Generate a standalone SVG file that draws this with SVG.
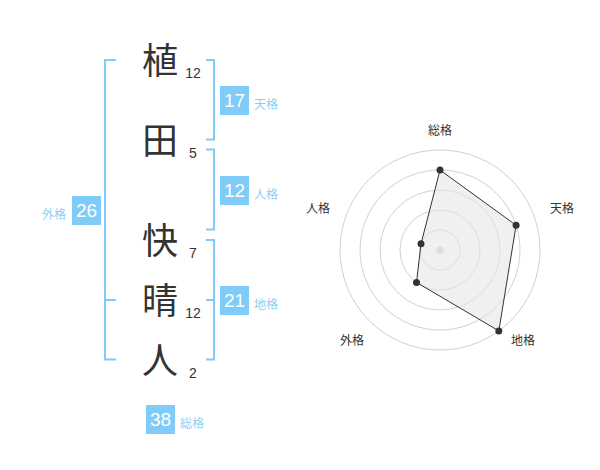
<svg xmlns="http://www.w3.org/2000/svg" width="600" height="470" viewBox="0 0 600 470">
<style>
.ch{font-family:"Noto Sans CJK JP","Noto Sans CJK SC",sans-serif;font-size:36px;fill:#333;text-anchor:middle}
.st{font-family:"Liberation Sans",Arial,sans-serif;font-size:14px;fill:#333;text-anchor:middle}
.box{fill:#80ccf8}
.bn{font-family:"Liberation Sans",Arial,sans-serif;font-size:19px;fill:#fff;text-anchor:middle}
.bl{font-family:"Noto Sans CJK JP","Noto Sans CJK SC",sans-serif;font-size:12px;fill:#8ccff6}
.br{fill:none;stroke:#80ccf8;stroke-width:2}
.ring{fill:none;stroke:#d0d0d0;stroke-width:1}
.rl{font-family:"Noto Sans CJK JP","Noto Sans CJK SC",sans-serif;font-size:12px;fill:#333;text-anchor:middle}
.dot{fill:#333}
</style>
<rect width="600" height="470" fill="#fff"/>
<g id="connectors">
<path class="br" d="M116,60H105V359.5H116M105,300H116"/>
<path class="br" d="M206,60H214V139.5H206"/>
<path class="br" d="M206,149.5H214V229.5H206"/>
<path class="br" d="M206,240H214V359.5H206M206,300H214"/>
</g>
<g id="char1"><text class="ch" x="160" y="73.5">植</text><text class="st" x="193" y="77.7">12</text></g>
<g id="char2"><text class="ch" x="160" y="153.5">田</text><text class="st" x="193" y="157.7">5</text></g>
<g id="char3"><text class="ch" x="160" y="253.5">快</text><text class="st" x="193" y="257.5">7</text></g>
<g id="char4"><text class="ch" x="160" y="313.5">晴</text><text class="st" x="193" y="317.7">12</text></g>
<g id="char5"><text class="ch" x="160" y="373.5">人</text><text class="st" x="193" y="377.7">2</text></g>
<g id="tenkaku"><rect class="box" x="220" y="86" width="29" height="29"/><text class="bn" x="234.5" y="107.3">17</text><text class="bl" x="254" y="109">天格</text></g>
<g id="jinkaku"><rect class="box" x="220" y="176" width="29" height="29"/><text class="bn" x="234.5" y="197.3">12</text><text class="bl" x="254" y="199">人格</text></g>
<g id="chikaku"><rect class="box" x="220" y="286" width="29" height="29"/><text class="bn" x="234.5" y="307.3">21</text><text class="bl" x="254" y="309">地格</text></g>
<g id="gaikaku"><rect class="box" x="72" y="196" width="29" height="29"/><text class="bn" x="86.5" y="217.3">26</text><text class="bl" x="66" y="219" text-anchor="end">外格</text></g>
<g id="soukaku"><rect class="box" x="146" y="405" width="29" height="29"/><text class="bn" x="160.5" y="426.3">38</text><text class="bl" x="180" y="428">総格</text></g>
<g id="radar">
<circle class="ring" cx="440" cy="250" r="20"/>
<circle class="ring" cx="440" cy="250" r="40"/>
<circle class="ring" cx="440" cy="250" r="60"/>
<circle class="ring" cx="440" cy="250" r="80"/>
<circle class="ring" cx="440" cy="250" r="100"/>
<circle cx="440" cy="250" r="3.5" fill="#ccc"/>
<polygon points="440,170 516.1,225.3 498.8,330.9 416.5,282.4 421,243.8" fill="#e6e6e6" fill-opacity="0.6" stroke="#333" stroke-width="1"/>
<circle class="dot" cx="440" cy="170" r="3.5"/>
<circle class="dot" cx="516.1" cy="225.3" r="3.5"/>
<circle class="dot" cx="498.8" cy="330.9" r="3.5"/>
<circle class="dot" cx="416.5" cy="282.4" r="3.5"/>
<circle class="dot" cx="421" cy="243.8" r="3.5"/>
<text class="rl" x="440" y="134.5">総格</text>
<text class="rl" x="562" y="212.5">天格</text>
<text class="rl" x="523" y="345">地格</text>
<text class="rl" x="352" y="345">外格</text>
<text class="rl" x="318" y="212.5">人格</text>
</g>
</svg>
